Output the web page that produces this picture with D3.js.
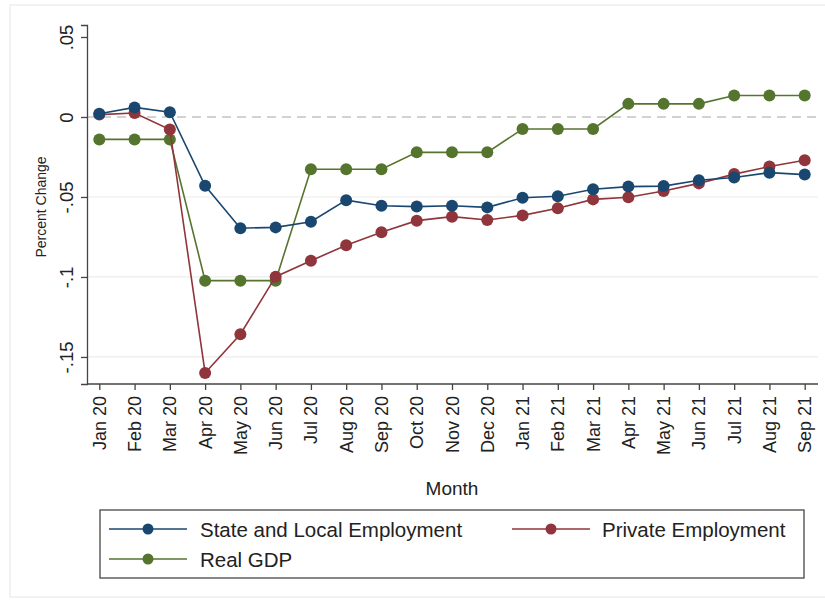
<!DOCTYPE html>
<html>
<head>
<meta charset="utf-8">
<script src="https://cdn.jsdelivr.net/npm/d3@7"></script>
<style>
  html, body { margin: 0; padding: 0; background: #ffffff; }
  svg text { font-family: "Liberation Sans", Arial, sans-serif; fill: #222; }
</style>
</head>
<body>
<svg id="chart" width="825" height="603"></svg>
<script>
const monthLabels = ["Jan 20","Feb 20","Mar 20","Apr 20","May 20","Jun 20","Jul 20","Aug 20","Sep 20","Oct 20","Nov 20","Dec 20",
                "Jan 21","Feb 21","Mar 21","Apr 21","May 21","Jun 21","Jul 21","Aug 21","Sep 21"];
const stateLocal = [0.002, 0.006, 0.003, -0.043, -0.0695, -0.069, -0.0655, -0.052, -0.0555, -0.056, -0.0555, -0.0565,
                    -0.0505, -0.0495, -0.0452, -0.0435, -0.0432, -0.0395, -0.0378, -0.0348, -0.036];
const privateEmp = [0.0015, 0.0025, -0.0078, -0.16, -0.1358, -0.0998, -0.0898, -0.0802, -0.072, -0.0648, -0.0623, -0.0644,
                    -0.0615, -0.0571, -0.0515, -0.0502, -0.0463, -0.0415, -0.0357, -0.031, -0.027];
const realGDP = [-0.014, -0.014, -0.014, -0.1023, -0.1023, -0.1023, -0.0327, -0.0327, -0.0327, -0.0221, -0.0221, -0.0221,
                 -0.0075, -0.0075, -0.0075, 0.0082, 0.0082, 0.0082, 0.0134, 0.0134, 0.0134];
const yTicks = [-0.15, -0.1, -0.05, 0, 0.05];
const yTickLabels = ["-.15", "-.1", "-.05", "0", ".05"];
const seriesNames = ["State and Local Employment", "Private Employment", "Real GDP"];
const seriesColors = ["#1a476f", "#90353b", "#55752f"];

const svg = d3.select("#chart");

// outer graph region frame
svg.append("rect").attr("x", 10).attr("y", 5).attr("width", 830).attr("height", 592)
  .attr("fill", "#ffffff").attr("stroke", "#e6e6e6").attr("stroke-width", 1);

const x = d3.scalePoint().domain(monthLabels).range([99.3, 804.7]);
const y = d3.scaleLinear().domain([-0.1669, 0.0575]).range([384, 25]);
const plotLeft = 87, plotRight = 818;

// gridlines
svg.append("g").selectAll("line").data(yTicks.filter(v => v < -0.01))
  .join("line")
  .attr("x1", plotLeft).attr("x2", plotRight)
  .attr("y1", d => y(d)).attr("y2", d => y(d))
  .attr("stroke", "#ececec").attr("stroke-width", 1.2);

// zero reference dashed line
svg.append("line").attr("x1", plotLeft).attr("x2", 822)
  .attr("y1", y(0)).attr("y2", y(0))
  .attr("stroke", "#c4c4c4").attr("stroke-width", 1.3).attr("stroke-dasharray", "9,6");

// Y axis
const yAxis = d3.axisLeft(y).tickValues(yTicks).tickSize(6).tickFormat((d, i) => yTickLabels[i]);
const gy = svg.append("g").attr("transform", `translate(${plotLeft},0)`).call(yAxis);
gy.select(".domain").attr("stroke", "#444").attr("stroke-width", 1.3);
gy.selectAll(".tick line").attr("stroke", "#444").attr("stroke-width", 1.3);
gy.selectAll(".tick text")
  .attr("x", null).attr("dy", null)
  .attr("transform", "translate(-14,0) rotate(-90)")
  .attr("text-anchor", "middle")
  .style("font-size", "18.5px").style("font-family", "Liberation Sans, Arial, sans-serif").attr("fill", "#222");

// X axis
const xAxis = d3.axisBottom(x).tickSize(6).tickSizeOuter(0);
const gx = svg.append("g").attr("transform", `translate(0,384)`).call(xAxis);
gx.select(".domain").attr("d", `M${plotLeft},0H${plotRight}`).attr("stroke", "#444").attr("stroke-width", 1.3);
gx.selectAll(".tick line").attr("stroke", "#444").attr("stroke-width", 1.3);
gx.selectAll(".tick text")
  .attr("y", null).attr("dy", null)
  .attr("transform", "translate(6,12) rotate(-90)")
  .attr("text-anchor", "end")
  .style("font-size", "18px").style("font-family", "Liberation Sans, Arial, sans-serif").attr("fill", "#222");

// axis titles
svg.append("text").attr("transform", "translate(46,207) rotate(-90)")
  .attr("text-anchor", "middle").style("font-size", "14px").text("Percent Change");
svg.append("text").attr("x", 452).attr("y", 495)
  .attr("text-anchor", "middle").style("font-size", "19px").text("Month");

// series
const allSeries = [stateLocal, privateEmp, realGDP];
const line = d3.line().x((d, i) => x(monthLabels[i])).y(d => y(d));
const order = [2, 1, 0];
order.forEach(si => {
  const g = svg.append("g");
  g.append("path").datum(allSeries[si]).attr("d", line)
    .attr("fill", "none").attr("stroke", seriesColors[si]).attr("stroke-width", 1.6);
  g.selectAll("circle").data(allSeries[si]).join("circle")
    .attr("cx", (d, i) => x(monthLabels[i])).attr("cy", d => y(d)).attr("r", 6)
    .attr("fill", seriesColors[si]);
});

// legend
const legend = svg.append("g");
legend.append("rect").attr("x", 100).attr("y", 510).attr("width", 704).attr("height", 68)
  .attr("fill", "#fff").attr("stroke", "#555").attr("stroke-width", 1.4);
const legendPos = [
  { lx: 109, ty: 529, tx: 200 },
  { lx: 512, ty: 529, tx: 602 },
  { lx: 109, ty: 559, tx: 200 }
];
seriesNames.forEach((name, i) => {
  const p = legendPos[i];
  legend.append("line").attr("x1", p.lx).attr("x2", p.lx + 78).attr("y1", p.ty).attr("y2", p.ty)
    .attr("stroke", seriesColors[i]).attr("stroke-width", 1.6);
  legend.append("circle").attr("cx", p.lx + 39).attr("cy", p.ty).attr("r", 5.5).attr("fill", seriesColors[i]);
  legend.append("text").attr("x", p.tx).attr("y", p.ty + 7.5).style("font-size", "20.5px").text(name);
});
</script>
</body>
</html>
